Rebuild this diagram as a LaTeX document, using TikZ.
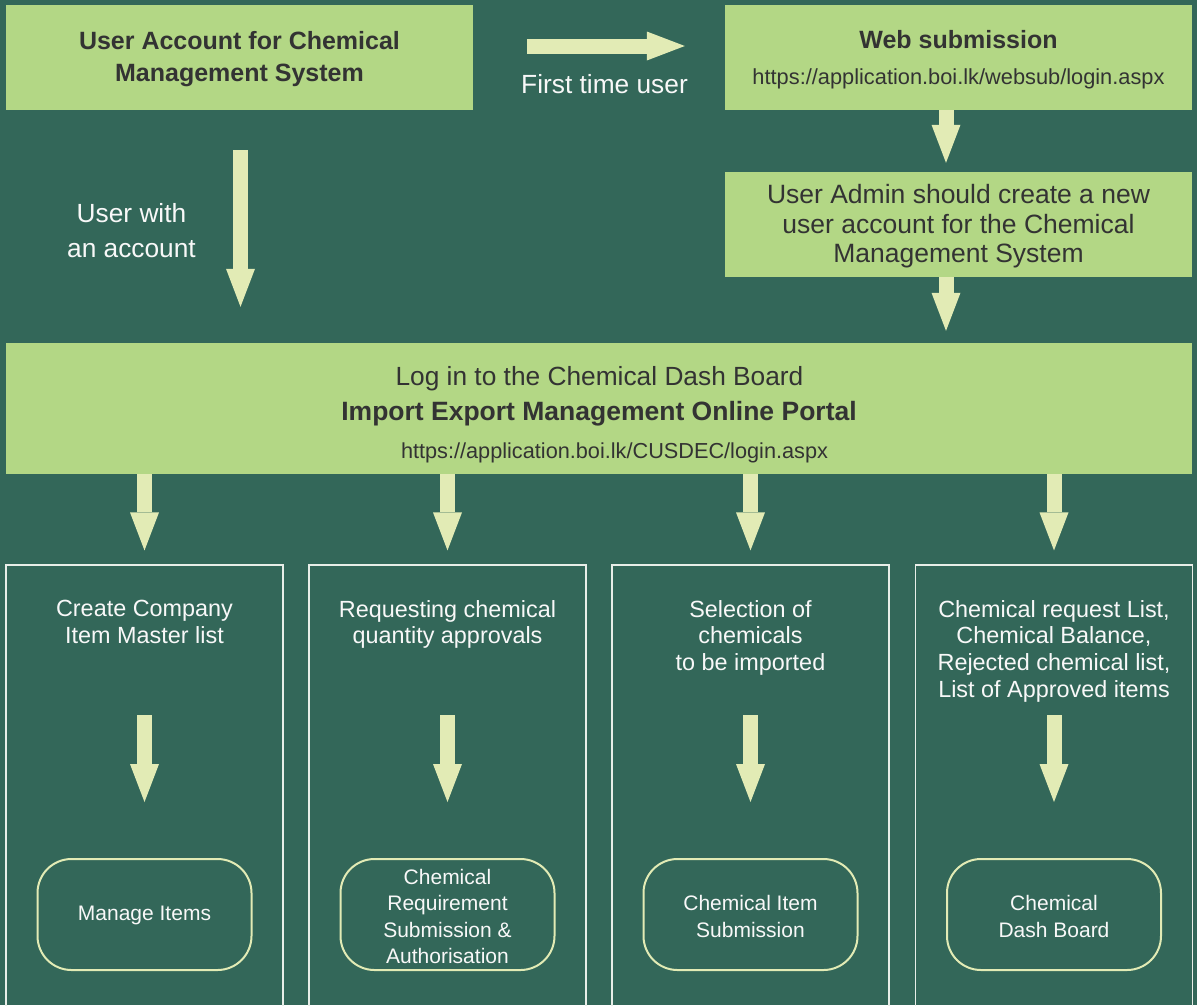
\documentclass[tikz,border=0pt]{standalone}
\usepackage{fontspec}
\setmainfont{Liberation Sans}
\usetikzlibrary{arrows.meta}
\definecolor{bg}{RGB}{51,103,89}
\definecolor{boxg}{RGB}{179,215,133}
\definecolor{arr}{RGB}{226,235,181}
\definecolor{dark}{RGB}{51,51,51}
\definecolor{wtext}{RGB}{248,248,248}
\definecolor{colline}{RGB}{232,238,232}
\begin{document}
\begin{tikzpicture}[x=1pt,y=-1pt,
  greenbox/.style={fill=boxg, draw=none, inner sep=0pt, text=dark, align=center},
  colbox/.style={draw=colline, line width=1.2pt, inner sep=0pt, minimum width=277pt, minimum height=445pt},
  roundbox/.style={draw=arr, line width=2pt, rounded corners=34pt, minimum width=214pt, minimum height=111pt, inner sep=0pt, text=wtext, align=center, font=\fontsize{21}{26.5}\selectfont},
  rtext/.style={inner sep=0pt, text=wtext, align=center, font=\fontsize{21}{26.5}\selectfont},
  coltext/.style={anchor=north, inner sep=0pt, text=wtext, align=center, font=\fontsize{23.4}{26.8}\selectfont},
  wlabel/.style={inner sep=0pt, text=wtext, align=center, font=\fontsize{26.3}{35}\selectfont},
  darktext/.style={inner sep=0pt, text=dark, align=center},
  blockarrow/.style={draw=arr, line width=15pt, -{Triangle[width=29pt,length=38pt,line width=0pt 0 0]}}
]
\fill[bg] (0,0) rectangle (1197,1005);
\useasboundingbox (0,0) rectangle (1197,1005);

% top boxes
\node[greenbox, minimum width=467pt, minimum height=105pt] (A) at (239.5,57.5) {};
\node[darktext, font=\bfseries\fontsize{25}{32}\selectfont] (At) at (239.5,59.5) {User Account for Chemical\\Management System};
\node[greenbox, minimum width=467pt, minimum height=105pt] (B) at (958.5,57.5) {};
\node[darktext, font=\bfseries\fontsize{25}{30}\selectfont] (Bt) at (958.5,40) {Web submission};
\node[darktext, font=\fontsize{21.8}{26}\selectfont] (Bu) at (958.5,78.5) {https://application.boi.lk/websub/login.aspx};
\node[greenbox, minimum width=467pt, minimum height=105pt] (C) at (958.5,224.5) {};
\node[darktext, font=\fontsize{26.5}{29.5}\selectfont] (Ct) at (958.5,226.5) {User Admin should create a new\\user account for the Chemical\\Management System};
\node[greenbox, minimum width=1186pt, minimum height=131pt] (D) at (599,408.5) {};
\node[darktext, font=\fontsize{26.3}{30}\selectfont] (D1) at (599.5,379) {Log in to the Chemical Dash Board};
\node[darktext, font=\bfseries\fontsize{26.5}{30}\selectfont] (D2) at (599,414) {Import Export Management Online Portal};
\node[darktext, font=\fontsize{21.7}{26}\selectfont] (D3) at (614.5,452.5) {https://application.boi.lk/CUSDEC/login.aspx};

% labels
\node[wlabel] (L1) at (604.5,84.5) {First time user};
\node[wlabel] (L2) at (131.5,231) {User with\\an account};

% columns
\node[colbox] (c1) at (144.5,787.5) {};
\node[colbox] (c2) at (447.5,787.5) {};
\node[colbox] (c3) at (750.5,787.5) {};
\node[colbox] (c4) at (1054,787.5) {};

\node[coltext] (t1) at (144.5,600) {Create Company\\Item Master list};
\node[coltext] (t2) at (447.5,600) {Requesting chemical\\quantity approvals};
\node[coltext] (t3) at (750.5,600) {Selection of\\chemicals\\to be imported};
\node[coltext] (t4) at (1054,600) {Chemical request List,\\Chemical Balance,\\Rejected chemical list,\\List of Approved items};

\node[roundbox] (r1) at (144.5,914.5) {};
\node[roundbox] (r2) at (447.5,914.5) {};
\node[roundbox] (r3) at (750.5,914.5) {};
\node[roundbox] (r4) at (1054,914.5) {};
\node[rtext] (rt1) at (144.5,915) {Manage Items};
\node[rtext] (rt2) at (447.5,916.5) {Chemical\\Requirement\\Submission \&\\Authorisation};
\node[rtext] (rt3) at (750.5,916.5) {Chemical Item\\Submission};
\node[rtext] (rt4) at (1054,916.5) {Chemical\\Dash Board};

% arrows
\draw[blockarrow, shorten <=54pt, shorten >=40pt] ([yshift=11.5pt]A.east) -- ([yshift=11.5pt]B.west);
\draw[blockarrow, shorten <=40pt, shorten >=36pt] ([xshift=1pt]A.south) -- ([xshift=1pt]A.south |- D.north);
\draw[blockarrow, shorten >=9pt] ([xshift=-12.5pt]B.south) -- ([xshift=-12.5pt]C.north);
\draw[blockarrow, shorten >=12pt] ([xshift=-12.5pt]C.south) -- ([xshift=-12.5pt]C.south |- D.north);
\foreach \i in {1,2,3,4}{
  \draw[blockarrow, shorten >=14pt] (D.south -| c\i.north) -- (c\i.north);
  \draw[blockarrow] ([yshift=143pt]r\i.north) -- ([yshift=56pt]r\i.north);
}
\end{tikzpicture}
\end{document}
